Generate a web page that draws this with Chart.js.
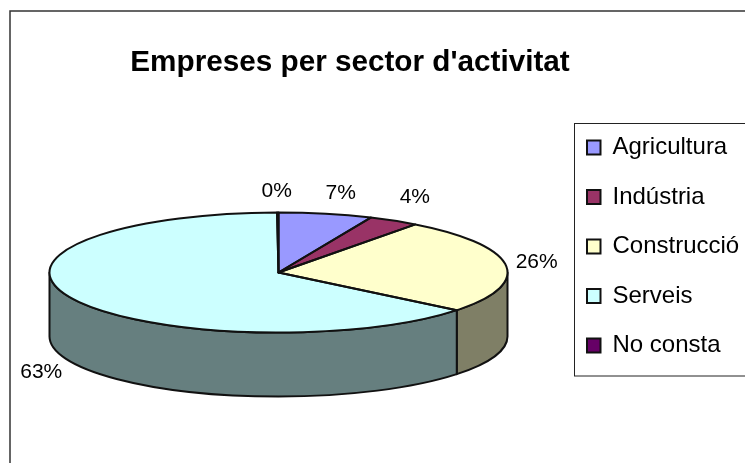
<!DOCTYPE html>
<html><head><meta charset="utf-8">
<style>html,body{margin:0;padding:0;background:#fff;overflow:hidden}canvas{display:block}</style>
<script src="https://cdn.jsdelivr.net/npm/chart.js@4"></script></head>
<body><canvas id="c" width="745" height="463"></canvas>
<script>
const titleText = "Empreses per sector d'activitat";
const categories = ['Agricultura','Indústria','Construcció','Serveis','No consta'];
const values = [6.6, 3.6, 25.6, 64.1, 0.1];
const percentLabels = ['7%','4%','26%','63%','0%'];
const topColors = ['#9999FF','#993366','#FFFFCC','#CCFFFF','#660066'];
const wallColors = ['#4C4C7F','#4C1933','#7F7F66','#667F7F','#330033'];

const FONT = '"Liberation Sans", Arial, sans-serif';
// Projection of the flat pie onto the tilted 3-D disc
const disc = {cx:278.5, cy:272.5, rx:229, ry:60, depth:64};
const labelNudges = [[15,-21],[21,-23],[31,-3],[-31,74],[-1,-21]];
const OUT = '#111';

const pie3d = {
  id:'pie3d',
  afterLayout(chart){
    const t = chart.titleBlock; t.left = 130; t.right = 570; t.top = 1;
    const l = chart.legend; l.left = 561.5; l.right = 745; l.top = 110; l.bottom = 463;
  },
  beforeDraw(chart){
    const c = chart.ctx;
    c.save();
    c.fillStyle = '#fff'; c.fillRect(0,0,745,463);
    c.strokeStyle = '#333'; c.lineWidth = 1.5;
    c.strokeRect(10,11,800,500);
    c.fillRect(574.5,123.5,200,252.5);
    c.strokeStyle = '#222'; c.lineWidth = 1;
    c.strokeRect(574.5,123.5,200,252.5);
    c.restore();
  },
  beforeDatasetsDraw(chart){
    const c = chart.ctx, arcs = chart.getDatasetMeta(0).data, d = disc;
    c.save();
    c.lineWidth = 2; c.strokeStyle = OUT; c.lineJoin = 'round';
    arcs.forEach((a,i)=>{
      const s = Math.max(a.startAngle,0), e = Math.min(a.endAngle,Math.PI);
      if (e <= s) return;
      c.beginPath();
      c.ellipse(d.cx,d.cy,d.rx,d.ry,0,s,e);
      c.ellipse(d.cx,d.cy+d.depth,d.rx,d.ry,0,e,s,true);
      c.closePath();
      c.fillStyle = wallColors[i];
      c.fill(); c.stroke();
    });
    c.restore();
    const a0 = arcs[0];
    c.save();
    c.translate(d.cx,d.cy);
    c.scale(d.rx/a0.outerRadius,d.ry/a0.outerRadius);
    c.translate(-a0.x,-a0.y);
  },
  afterDatasetsDraw(chart){
    const c = chart.ctx, arcs = chart.getDatasetMeta(0).data, d = disc;
    c.restore();
    c.save();
    c.lineWidth = 2; c.strokeStyle = OUT; c.lineJoin = 'round';
    arcs.forEach(a=>{
      c.beginPath();
      c.moveTo(d.cx,d.cy);
      c.ellipse(d.cx,d.cy,d.rx,d.ry,0,a.startAngle,a.endAngle);
      c.closePath();
      c.stroke();
    });
    c.font = '21px '+FONT; c.fillStyle = '#000';
    c.textAlign = 'center'; c.textBaseline = 'middle';
    arcs.forEach((a,i)=>{
      const m = (a.startAngle+a.endAngle)/2;
      c.fillText(percentLabels[i],
        d.cx+d.rx*Math.cos(m)+labelNudges[i][0],
        d.cy+d.ry*Math.sin(m)+labelNudges[i][1]);
    });
    c.restore();
  }
};

new Chart(document.getElementById('c'),{
  type:'pie',
  data:{labels:categories,datasets:[{data:values,backgroundColor:topColors,borderWidth:0}]},
  options:{
    responsive:false,animation:false,
    layout:{padding:0},
    plugins:{
      tooltip:{enabled:false},
      title:{display:true,text:titleText,color:'#000',
        font:{family:FONT,size:29.7,weight:'bold'},padding:{top:44,bottom:10}},
      legend:{position:'right',align:'start',
        labels:{font:{family:FONT,size:24},color:'#000',boxWidth:13.5,boxHeight:14,padding:25.5,
          generateLabels(chart){
            return categories.map((t,i)=>({text:t,fillStyle:topColors[i],strokeStyle:OUT,lineWidth:2,index:i}));
          }}}
    }
  },
  plugins:[pie3d]
});
</script></body></html>
